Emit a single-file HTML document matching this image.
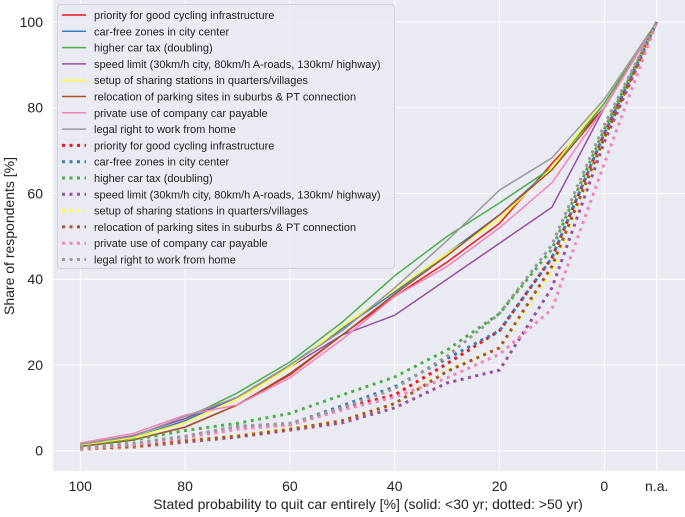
<!DOCTYPE html>
<html><head><meta charset="utf-8"><style>
body{margin:0;background:#fff;}
svg text{font-family:"Liberation Sans",sans-serif;}
</style></head><body>
<svg id="chart" width="685" height="512" viewBox="0 0 685 512">
<rect x="53" y="0" width="632" height="471" fill="#eaeaf2"/>
<g id="grid"></g><g id="series"></g><g id="axes"></g><g id="legend"></g>
</svg>
<script>
const categories=["100","90","80","70","60","50","40","30","20","10","0","n.a."];
const xTickLabels=["100","80","60","40","20","0","n.a."];
const xTickIdx=[0,2,4,6,8,10,11];
const yTicks=[0,20,40,60,80,100];
const names=["priority for good cycling infrastructure","car-free zones in city center","higher car tax (doubling)","speed limit (30km/h city, 80km/h A-roads, 130km/ highway)","setup of sharing stations in quarters/villages","relocation of parking sites in suburbs & PT connection","private use of company car payable","legal right to work from home"];
const colors=["#e41a1c","#377eb8","#4daf4a","#984ea3","#ffff33","#a65628","#f781bf","#999999"];
const solidRed=[1.0,2.5,5.5,10.7,17.7,27,36,44,53,67,80,100];
const solidBlue=[1.3,3.0,7.0,12.5,20,28.5,37,46,55,66,81,100];
const solidGreen=[1.5,3.5,7.5,13.5,20.7,30,40.8,50,57.8,66,81,100];
const solidPurple=[1.4,3.5,7.5,12.5,19.5,27,31.6,40,48.4,56.8,80,100];
const solidYellow=[1.2,3.0,6.5,12,19.5,29,37.5,46,54,66,82,100];
const solidBrown=[1.0,2.5,5.5,10.7,18,27,36.5,45.5,55,65.5,80,100];
const solidPink=[1.8,4.0,8.3,10.7,17,26,36,43,52,62.5,80,100];
const solidGray=[1.5,3.3,8.0,12.5,20,28,38,49,60.8,68.3,82,100];
const dotRed=[0.6,1.5,3.2,5.5,6.0,10,13,20.3,28,45,74,100];
const dotBlue=[0.6,1.5,3.2,5.5,6.2,10.5,14.9,21.5,28,45,74,100];
const dotGreen=[0.8,2.5,4.7,6.4,8.7,13,17.2,23.5,32,47,75,100];
const dotPurple=[0.3,0.8,2.0,3.2,4.8,6.5,10,15.8,18.8,38,72,100];
const dotYellow=[0.3,0.9,2.3,3.5,5.2,7,11,18.8,24,42,73,100];
const dotBrown=[0.4,1.0,2.3,3.4,5.0,7,11,18.5,24,43,73,100];
const dotPink=[0.5,1.4,3.0,5.0,6.0,9.5,12.5,17,22.5,33,67,100];
const dotGray=[0.7,1.7,3.4,5.7,6.4,10,14.5,22,32,48,76,100];
const solidSeries=[solidRed,solidBlue,solidGreen,solidPurple,solidYellow,solidBrown,solidPink,solidGray];
const dotSeries=[dotRed,dotBlue,dotGreen,dotPurple,dotYellow,dotBrown,dotPink,dotGray];
const NS="http://www.w3.org/2000/svg";
const xs=i=>80.3+52.4*i, ys=v=>450.7-4.287*v;
function mk(t,a,p){const e=document.createElementNS(NS,t);for(const k in a)e.setAttribute(k,a[k]);p.appendChild(e);return e;}
const grid=document.getElementById('grid'),axes=document.getElementById('axes'),ser=document.getElementById('series'),leg=document.getElementById('legend');
yTicks.forEach(v=>{const l=mk('line',{x1:53,x2:685,y1:ys(v),y2:ys(v),stroke:'#fff','stroke-width':1},grid);

const t=mk('text',{x:43,y:ys(v)+5,'text-anchor':'end','font-size':14,fill:'#222'},axes);t.textContent=v;
});
xTickIdx.forEach((i,k)=>{const l=mk('line',{x1:xs(i),x2:xs(i),y1:0,y2:471,stroke:'#fff','stroke-width':1},grid);

const t=mk('text',{x:xs(i),y:491,'text-anchor':'middle','font-size':14,fill:'#222'},axes);t.textContent=xTickLabels[k];
});
let t=mk('text',{x:368,y:509,'text-anchor':'middle','font-size':14,fill:'#222'},axes);t.textContent="Stated probability to quit car entirely [%] (solid: <30 yr; dotted: >50 yr)";

t=mk('text',{x:0,y:0,transform:'translate(14,236) rotate(-90)','text-anchor':'middle','font-size':14,fill:'#222'},axes);t.textContent="Share of respondents [%]";

function draw(arr,c,dot){const p=mk('polyline',{points:arr.map((v,i)=>xs(i)+','+ys(v)).join(' '),fill:'none',stroke:c,'stroke-width':dot?3:1.5},ser);
if(dot)p.setAttribute('stroke-dasharray','3,4.5');
}
solidSeries.forEach((s,k)=>draw(s,colors[k],false));
dotSeries.forEach((s,k)=>draw(s,colors[k],true));
const box=mk('rect',{x:57.5,y:4.5,width:337,height:264,rx:3,fill:'#eaeaf2','fill-opacity':0.85,stroke:'#d0d0d8'},leg);

for(let r=0;r<16;r++){const k=r%8,dot=r>=8,y=15+16.3*r;
const l=mk('line',{x1:62,x2:86,y1:y,y2:y,stroke:colors[k],'stroke-width':dot?3:1.5},leg);if(dot)l.setAttribute('stroke-dasharray','3,4.5');

const tt=mk('text',{x:94,y:y+4,'font-size':11,fill:'#222'},leg);tt.textContent=names[k];
}
</script>
</body></html>
